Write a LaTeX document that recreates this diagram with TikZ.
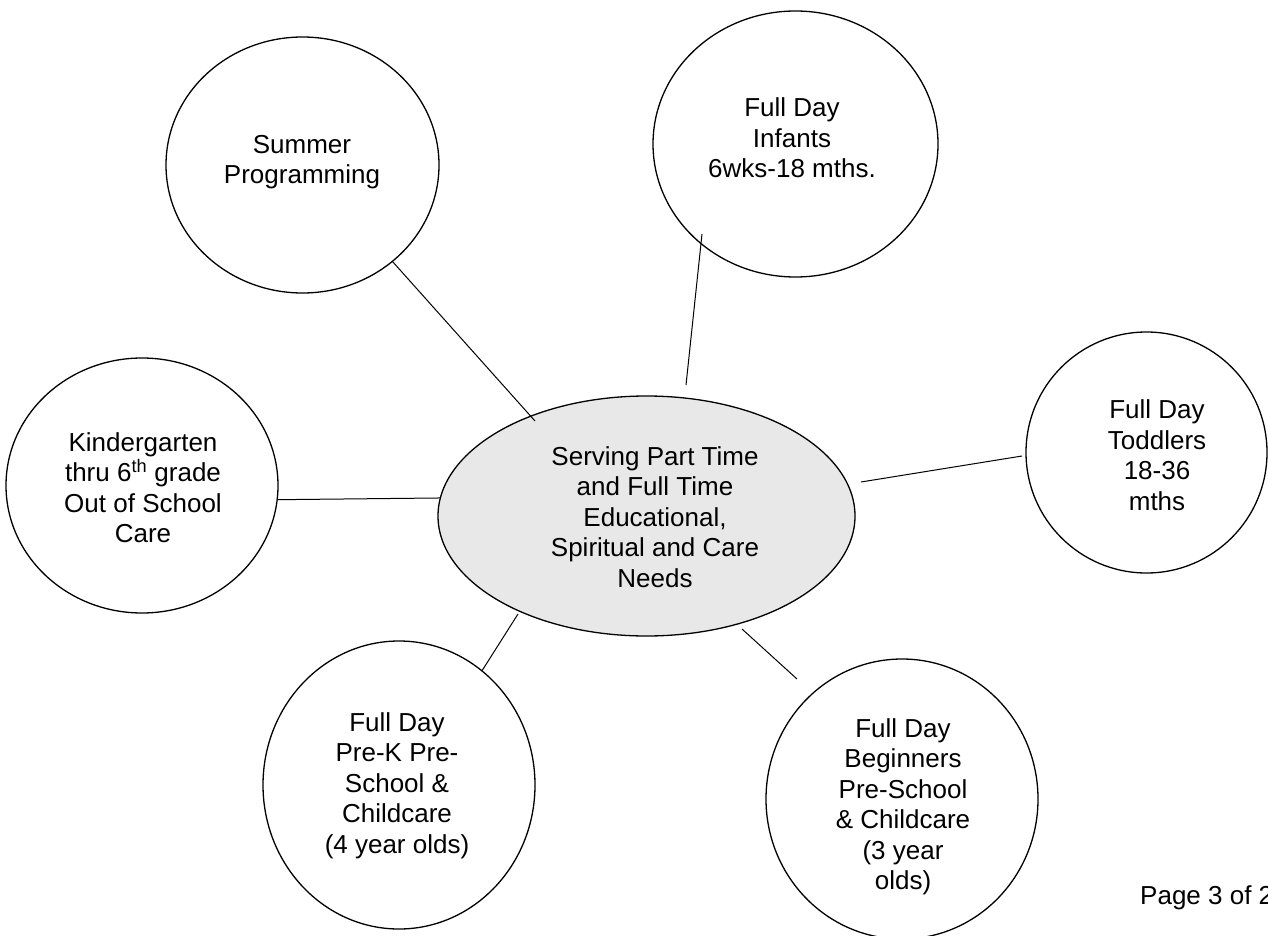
\documentclass[tikz,border=0pt]{standalone}
\usepackage{fontspec}
\setmainfont{Liberation Sans}
\usetikzlibrary{shapes.geometric}
\definecolor{hubgray}{RGB}{232,232,232}
\begin{document}
\begin{tikzpicture}[x=1pt,y=-1pt,
  bubble/.style={ellipse, draw=black, line width=1.3pt, fill=white, inner sep=0pt, outer sep=0pt},
  hubstyle/.style={bubble, fill=hubgray},
  txtstyle/.style={align=center, inner sep=0pt, font=\fontsize{26}{30.5}\selectfont},
  link/.style={line width=1pt}]
\clip (0,0) rectangle (1268,936);
\fill[white] (0,0) rectangle (1268,936);

% bubbles
\node[hubstyle, minimum width=417pt, minimum height=240pt] (hub) at (646.5,516) {};
\node[bubble, minimum width=273pt, minimum height=256pt] (summer) at (302.5,165) {};
\node[bubble, minimum width=285pt, minimum height=266pt] (infants) at (795.5,144) {};
\node[bubble, minimum width=241pt, minimum height=241pt] (toddlers) at (1146.5,452.5) {};
\node[bubble, minimum width=272pt, minimum height=255pt] (kinder) at (142,485.5) {};
\node[bubble, minimum width=272pt, minimum height=288pt] (prek) at (399,785) {};
\node[bubble, minimum width=272pt, minimum height=280pt] (begin) at (902,799) {};

% texts
\node[txtstyle] (hub-t) at (655,517) {Serving Part Time\\and Full Time\\Educational,\\Spiritual and Care\\Needs};
\node[txtstyle] (summer-t) at (302,162) {Summer\\Programming};
\node[txtstyle] (infants-t) at (792,138) {Full Day\\Infants\\6wks-18 mths.};
\node[txtstyle] (toddlers-t) at (1157,455) {Full Day\\Toddlers\\18-36\\mths};
\node[txtstyle] (kinder-t) at (143,487.5) {Kindergarten\\thru 6\textsuperscript{th} grade\\Out of School\\Care};
\node[txtstyle] (prek-t) at (397,785.5) {Full Day\\Pre-K Pre-\\School \&\\Childcare\\(4 year olds)};
\node[txtstyle] (begin-t) at (903,807) {Full Day\\Beginners\\Pre-School\\\& Childcare\\(3 year\\olds)};
\node[txtstyle, anchor=west] (page) at (1140,898) {Page 3 of 2};

% free connector ends
\coordinate (hub-nw) at (535,421);
\coordinate (infants-in) at (702,234);
\coordinate (hub-n) at (686,385);
\coordinate (toddlers-w) at (1022,456);
\coordinate (hub-e) at (861,482);
\coordinate (hub-sw) at (518,614);
\coordinate (hub-se) at (742,629);
\coordinate (begin-nw) at (797,679);

% connectors
\draw[link] (summer.-47.3) -- (hub-nw);
\draw[link] (infants-in) -- (hub-n);
\draw[link] (toddlers-w) -- (hub-e);
\draw[link] (kinder.-6.45) -- (hub.175.8);
\draw[link] (hub-sw) -- (prek.54.4);
\draw[link] (hub-se) -- (begin-nw);
\end{tikzpicture}
\end{document}
